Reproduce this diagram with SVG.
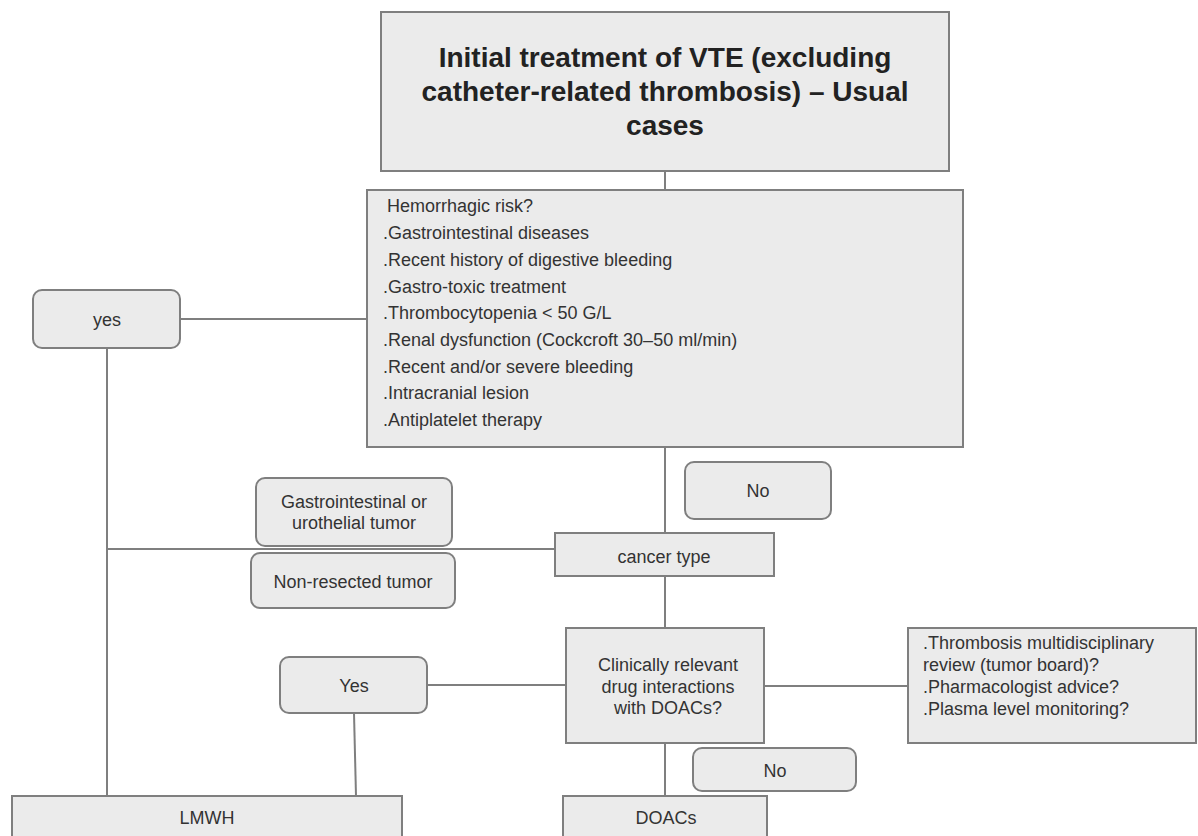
<svg xmlns="http://www.w3.org/2000/svg" width="1198" height="836" viewBox="0 0 1198 836">
<style>
.box{fill:#ebebeb;stroke:#7f7f7f;stroke-width:2}
.t{font-family:"Liberation Sans",Arial,sans-serif;font-size:18px;fill:#333}
.c{text-anchor:middle}
.title{font-family:"Liberation Sans",Arial,sans-serif;font-size:28px;font-weight:bold;fill:#222;text-anchor:middle}
.ln{stroke:#7f7f7f;stroke-width:2;fill:none}
</style>
<rect x="0" y="0" width="1198" height="836" fill="#ffffff"/>
<g id="connectors">
<line class="ln" x1="665" y1="171" x2="665" y2="190"/>
<line class="ln" x1="180" y1="319" x2="367" y2="319"/>
<line class="ln" x1="107" y1="348" x2="107" y2="796"/>
<line class="ln" x1="665" y1="447" x2="665" y2="533"/>
<line class="ln" x1="107" y1="549" x2="555" y2="549"/>
<line class="ln" x1="665" y1="576" x2="665" y2="628"/>
<line class="ln" x1="427" y1="685" x2="566" y2="685"/>
<line class="ln" x1="764" y1="686" x2="908" y2="686"/>
<line class="ln" x1="354" y1="713" x2="356" y2="796"/>
<line class="ln" x1="665" y1="743" x2="665" y2="796"/>
</g>
<g id="title">
<rect class="box" x="381" y="12" width="568" height="159"/>
<text class="title" x="665" y="67">Initial treatment of VTE (excluding</text>
<text class="title" x="665" y="101">catheter-related thrombosis) – Usual</text>
<text class="title" x="665" y="135">cases</text>
</g>
<g id="hemorrhagic">
<rect class="box" x="367" y="190" width="596" height="257"/>
<text class="t" x="387" y="212">Hemorrhagic risk?</text>
<text class="t" x="383" y="239">.Gastrointestinal diseases</text>
<text class="t" x="383" y="266">.Recent history of digestive bleeding</text>
<text class="t" x="383" y="293">.Gastro-toxic treatment</text>
<text class="t" x="383" y="319">.Thrombocytopenia &lt; 50 G/L</text>
<text class="t" x="383" y="346">.Renal dysfunction (Cockcroft 30–50 ml/min)</text>
<text class="t" x="383" y="373">.Recent and/or severe bleeding</text>
<text class="t" x="383" y="399">.Intracranial lesion</text>
<text class="t" x="383" y="426">.Antiplatelet therapy</text>
</g>
<g id="yes1">
<rect class="box" x="33" y="290" width="147" height="58" rx="9"/>
<text class="t c" x="107" y="326">yes</text>
</g>
<g id="no1">
<rect class="box" x="685" y="462" width="146" height="57" rx="9"/>
<text class="t c" x="758" y="497">No</text>
</g>
<g id="gi-tumor">
<rect class="box" x="256" y="478" width="196" height="68" rx="9"/>
<text class="t c" x="354" y="508">Gastrointestinal or</text>
<text class="t c" x="354" y="529">urothelial tumor</text>
</g>
<g id="non-resected">
<rect class="box" x="251" y="553" width="204" height="55" rx="9"/>
<text class="t c" x="353" y="588">Non-resected tumor</text>
</g>
<g id="cancer-type">
<rect class="box" x="555" y="533" width="219" height="43"/>
<text class="t c" x="664" y="563">cancer type</text>
</g>
<g id="interactions">
<rect class="box" x="566" y="628" width="198" height="115"/>
<text class="t c" x="668" y="671">Clinically relevant</text>
<text class="t c" x="668" y="693">drug interactions</text>
<text class="t c" x="668" y="714">with DOACs?</text>
</g>
<g id="yes2">
<rect class="box" x="280" y="657" width="147" height="56" rx="9"/>
<text class="t c" x="354" y="692">Yes</text>
</g>
<g id="review">
<rect class="box" x="908" y="628" width="288" height="115"/>
<text class="t" x="923" y="649">.Thrombosis multidisciplinary</text>
<text class="t" x="923" y="671">review (tumor board)?</text>
<text class="t" x="923" y="693">.Pharmacologist advice?</text>
<text class="t" x="923" y="715">.Plasma level monitoring?</text>
</g>
<g id="no2">
<rect class="box" x="693" y="748" width="163" height="43" rx="9"/>
<text class="t c" x="775" y="777">No</text>
</g>
<g id="lmwh">
<rect class="box" x="12" y="796" width="390" height="60"/>
<text class="t c" x="207" y="824">LMWH</text>
</g>
<g id="doacs">
<rect class="box" x="563" y="796" width="204" height="60"/>
<text class="t c" x="666" y="824">DOACs</text>
</g>
</svg>
